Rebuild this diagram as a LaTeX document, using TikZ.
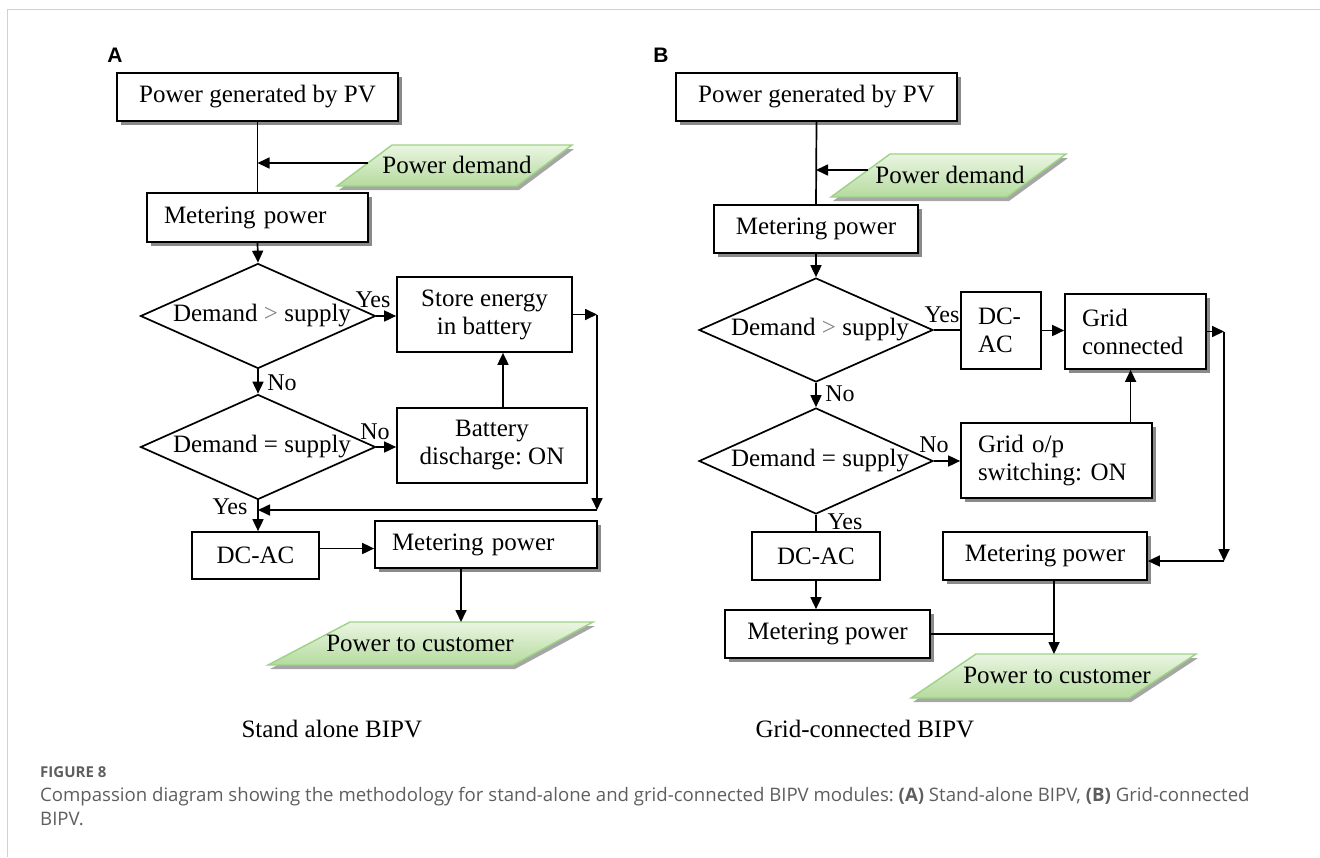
\documentclass[tikz,border=0pt]{standalone}
\usepackage{fontspec}
\setmainfont{Liberation Serif}
\newfontfamily\capfont{Open Sans}
\newfontfamily\panelfont{Liberation Sans}
\usetikzlibrary{arrows.meta,shadows,shapes.geometric,calc}
\definecolor{framegray}{HTML}{D0D0D0}
\definecolor{capgray}{HTML}{5E5E5E}
\definecolor{paraedge}{HTML}{9CD384}
\definecolor{paratop}{HTML}{EAF5E2}
\definecolor{parabot}{HTML}{B5DB9E}
\definecolor{shadowgray}{HTML}{8A8A8A}
\frenchspacing
\begin{document}
\begin{tikzpicture}[x=1pt,y=-1pt,
  every node/.style={font=\fontsize{25}{28}\selectfont},
  sz/.style 2 args={minimum width=#1,minimum height=#2},
  box/.style={draw,line width=1.7pt,fill=white,inner sep=0pt,align=center},
  shbox/.style={box,drop shadow={shadow xshift=4pt,shadow yshift=-4pt,fill=shadowgray,opacity=1}},
  lbox/.style={align=left,text width=#1,inner xsep=17pt},
  dia/.style={draw,line width=1.7pt,shape=diamond,inner sep=0pt,minimum width=235pt,minimum height=105pt},
  para/.style={draw=paraedge,line width=1.4pt,top color=paratop,bottom color=parabot,
     drop shadow={shadow xshift=2pt,shadow yshift=-4pt,fill=black!35,opacity=1}},
  lab/.style={font=\fontsize{24}{26}\selectfont,inner sep=0pt},
  panel/.style={font=\panelfont\bfseries\fontsize{21}{21}\selectfont,inner sep=0pt},
  ln/.style={line width=1.7pt},
  arr/.style={line width=1.7pt,-{Triangle[length=12pt,width=11pt]}},
  captxt/.style={font=\capfont\fontsize{18.6}{24}\selectfont,text=capgray,inner sep=0pt,anchor=base west}
]
\useasboundingbox (0,0) rectangle (1320,857);
\draw[framegray,line width=1.5pt] (7.5,857) -- (7.5,9.5) -- (1320,9.5);

% ---------------- Panel A ----------------
\node[panel] (lA) at (115,55) {A};
\node[shbox,sz={281pt}{48pt}] (a1) at (257.5,97) {Power generated by PV};
\path[para] (392,145) -- (572,145) -- (517,186) -- (337,186) -- cycle;
\node (a2) at (457,165) {Power demand};
\node[shbox,sz={221pt}{49pt},lbox=187pt] (a3) at (257.5,217.5) {Metering power};
\node[dia] (a4) at (258,316) {};
\node (a4t) at (262,316) {Demand {\color{gray}>} supply};
\node[box,sz={175pt}{75pt}] (a5) at (484.5,314.5) {Store energy\\in battery};
\node[dia] (a6) at (258,447) {};
\node (a6t) at (262,447) {Demand = supply};
\node[box,sz={190pt}{75pt}] (a7) at (492,445.5) {Battery\\discharge: ON};
\node[box,sz={127pt}{47pt}] (a8) at (255.5,555.5) {DC-AC};
\node[shbox,sz={222pt}{47pt},lbox=188pt] (a9) at (486,544.5) {Metering power};
\path[para] (350,622) -- (593,622) -- (513,665) -- (268,665) -- cycle;
\node (a10) at (420,643) {Power to customer};

\node[lab] (ya1) at (373,300) {Yes};
\node[lab] (na1) at (282,383) {No};
\node[lab] (na2) at (375,432) {No};
\node[lab] (ya2) at (230,507) {Yes};

\coordinate (ja) at (257.5,163);
\coordinate (a2l) at (368,163);
\coordinate (ra1) at (597,314.5);
\coordinate (ra2) at (597,510);
\coordinate (ra3) at (258,510);
\coordinate (xa) at (503,0);
\coordinate (a10top) at (461,622);

\draw[ln] (a1.south) -- (a3.north);
\draw[arr] (a2l) -- (ja);
\draw[arr] (a3.south) -- (a4.north);
\draw[arr] (a4.east) -- (a4.east -| a5.west);
\draw[arr] (a5.east) -- (ra1);
\draw[arr] (ra1) -- (ra2);
\draw[arr] (ra2) -- (ra3);
\draw[arr] (a4.south) -- (a6.north);
\draw[arr] (a6.east) -- (a6.east -| a7.west);
\draw[arr] (a7.north -| xa) -- (a5.south -| xa);
\draw[arr] (a6.south) -- (a6.south |- a8.north);
\draw[arr] ([yshift=7pt]a8.east) -- ([yshift=7pt]a8.east -| a9.west);
\draw[arr] (a9.south -| a10top) -- (a10top);

\node[anchor=base west] (capA) at (238,737) {Stand alone BIPV};

% ---------------- Panel B ----------------
\node[panel] (lB) at (661,55) {B};
\node[shbox,sz={281pt}{48pt}] (b1) at (816.5,97) {Power generated by PV};
\path[para] (890,154) -- (1066,154) -- (1007,197) -- (831,197) -- cycle;
\node (b2) at (950,175) {Power demand};
\node[shbox,sz={204pt}{48pt}] (b3) at (816,229) {Metering power};
\node[dia,minimum width=234pt,minimum height=104pt] (b4) at (816,330) {};
\node (b4t) at (820,330) {Demand {\color{gray}>} supply};
\node[box,sz={80pt}{77pt},lbox=46pt] (b5) at (1001,330.5) {DC-\\AC};
\node[shbox,sz={141pt}{75pt},lbox=107pt] (b6) at (1135.5,331.5) {Grid\\connected};
\node[dia,minimum width=234pt,minimum height=106pt] (b7) at (816,461) {};
\node (b7t) at (820,461) {Demand = supply};
\node[shbox,sz={191pt}{75pt},lbox=157pt] (b8) at (1056.5,460.5) {Grid o/p\\switching: ON};
\node[box,sz={128pt}{48pt}] (b9) at (816,556) {DC-AC};
\node[shbox,sz={205pt}{48pt}] (b10) at (827.5,634) {Metering power};
\node[shbox,sz={204pt}{48pt}] (b11) at (1045,556) {Metering power};
\path[para] (976,654) -- (1196,654) -- (1129,698) -- (911,698) -- cycle;
\node (b12) at (1057,675) {Power to customer};

\node[lab] (yb1) at (942,315) {Yes};
\node[lab] (nb1) at (840,394) {No};
\node[lab] (nb2) at (934,445) {No};
\node[lab] (yb2) at (845,522) {Yes};

\coordinate (jb) at (816,170);
\coordinate (b2l) at (868,170);
\coordinate (rb1) at (1224,331.5);
\coordinate (rb2) at (1224,561);
\coordinate (xb) at (1130.6,0);
\coordinate (b12top) at (1054,654);

\draw[ln] (b1.south) -- (b3.north);
\draw[arr] (b2l) -- (jb);
\draw[arr] (b3.south) -- (b4.north);
\draw[ln] (b4.east) -- (b4.east -| b5.west);
\draw[arr] (b5.east) -- (b5.east -| b6.west);
\draw[arr] (b6.east) -- (rb1);
\draw[arr] (rb1) -- (rb2);
\draw[arr] (rb2) -- (rb2 -| b11.east);
\draw[arr] (b4.south) -- (b7.north);
\draw[arr] (b7.east) -- (b7.east -| b8.west);
\draw[arr] (b8.north -| xb) -- (b6.south -| xb);
\draw[ln] (b7.south) -- (b9.north);
\draw[arr] (b9.south) -- (b9.south |- b10.north);
\draw[ln] (b10.east) -- (b10.east -| b12top);
\draw[arr] (b11.south -| b12top) -- (b12top);

\node[anchor=base west] (capB) at (752,737) {Grid-connected BIPV};

% ---------------- Caption ----------------
\node[captxt,font=\capfont\bfseries\fontsize{15}{15}\selectfont] (fig) at (40,777) {FIGURE 8};
\node[captxt] (cap1) at (40,801) {Compassion diagram showing the methodology for stand-alone and grid-connected BIPV modules: \textbf{(A)} Stand-alone BIPV, \textbf{(B)} Grid-connected};
\node[captxt] (cap2) at (40,825) {BIPV.};
\end{tikzpicture}
\end{document}
